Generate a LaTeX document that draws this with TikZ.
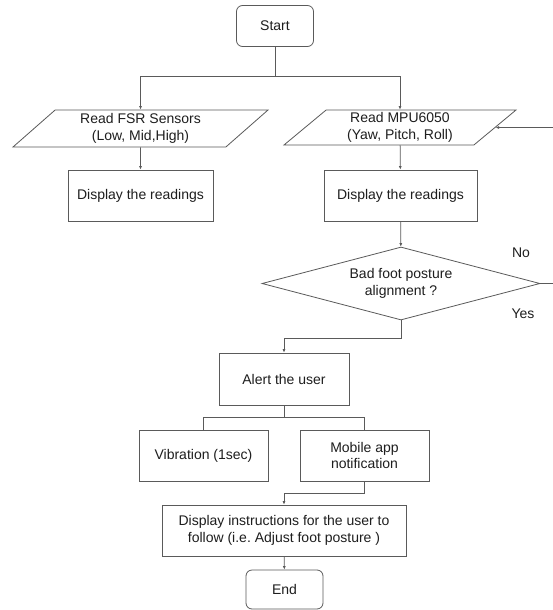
\documentclass[tikz,border=0pt]{standalone}
\usepackage{fontspec}
\setmainfont{Liberation Sans}
\usepackage{tikz}
\usetikzlibrary{shapes.geometric}
\usetikzlibrary{arrows.meta}
\definecolor{linegray}{HTML}{5A5A5A}
\definecolor{txtgray}{HTML}{1E1E1E}
\tikzset{%
    proc/.style={draw=linegray, rectangle, inner sep=1pt, align=center, text=txtgray},
    term/.style={proc, rounded corners=6pt},
    io/.style={draw=linegray, trapezium, trapezium left angle=37, trapezium right angle=143,
        trapezium stretches body, inner sep=1pt, align=center, text=txtgray},
    dec/.style={draw=linegray, diamond, aspect=3.8, inner sep=0pt, align=center, text=txtgray},
    lbl/.style={text=txtgray},
    arr/.style={-{Latex[length=3.5pt,width=3pt]}}
}

\begin{document}
\begin{tikzpicture}[x=1pt, y=-1pt, line width=0.8pt, draw=linegray,
        font=\fontsize{14}{16.7}\selectfont]
        \path[use as bounding box, fill=white] (0,0) rectangle (553,610);
        % nodes
        \node[term, minimum width=77pt, minimum height=41pt] (start) at (275,26) {Start};
        \node[io, minimum width=255pt, minimum height=37pt] (fsr) at (140.5,128.5) {Read FSR Sensors\\(Low, Mid,High)};
        \node[io, minimum width=232pt, minimum height=35pt] (mpu) at (400,127.5) {Read MPU6050\\(Yaw, Pitch, Roll)};
        \node[proc, minimum width=145pt, minimum height=51pt] (dispfsr) at (140.5,195.5) {Display the readings};
        \node[proc, minimum width=153pt, minimum height=51pt] (dispmpu) at (400.5,195.5) {Display the readings};
        \node[dec, minimum width=278pt, minimum height=73pt] (bad) at (401,283.5) {Bad foot posture\\alignment ?};
        \node[proc, minimum width=130pt, minimum height=52pt] (alert) at (284,379) {Alert the user};
        \node[proc, minimum width=129pt, minimum height=51pt] (vib) at (203.5,455.5) {Vibration (1sec)};
        \node[proc, minimum width=129pt, minimum height=51pt] (mob) at (364.5,455.5) {Mobile app\\notification};
        \node[proc, minimum width=244pt, minimum height=51pt] (instr) at (284,530.5) {Display instructions for the user to\\follow (i.e.\ Adjust foot posture )};
        \node[term, minimum width=77pt, minimum height=39pt] (end) at (284.5,589.5) {End};
        \node[lbl] (no) at (521,253) {No};
        \node[lbl] (yes) at (523,314) {Yes};
        % bends
        \coordinate (split) at (275,76);
        \coordinate (yesturn) at (401,338);
        \coordinate (alertsplit) at (284,417);
        \coordinate (mobturn) at (364.5,493);
        \coordinate (loopx) at (562,283.5);
        % connectors
        \draw (start) -- (split);
        \draw[arr] (split) -| (fsr.north);
        \draw[arr] (split) -| (mpu.north);
        \path[arr]
            (fsr) edge (dispfsr)
            (mpu) edge (dispmpu)
            (dispmpu) edge (bad);
        \draw[arr] (bad.south) -- (yesturn) -| (alert.north);
        \draw (alert.south) -- (alertsplit);
        \draw (alertsplit) -| (vib.north);
        \draw (alertsplit) -| (mob.north);
        \draw[arr] (mob.south) -- (mobturn) -| (instr.north);
        \draw[arr] (instr) -- (end);
        \draw[arr] (bad.east) -- (loopx) |- (mpu.east);
    \end{tikzpicture}
\end{document}
